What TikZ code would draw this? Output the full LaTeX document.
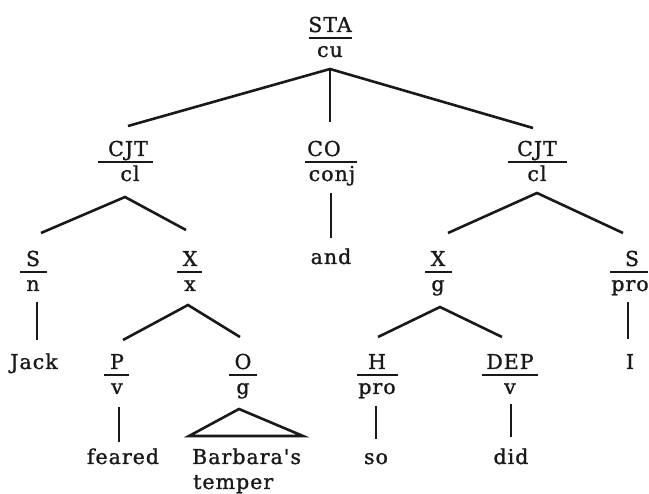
\documentclass[tikz,border=0pt]{standalone}
\usepackage{fontspec}
\newfontfamily\labfont{DejaVu Serif}[LetterSpace=5, FakeBold=1.2]
\tikzset{
  lab/.style={font=\labfont\fontsize{20.5}{22}\selectfont, inner sep=0pt, anchor=base, text=black!90},
  wordl/.style={lab, anchor=base west},
  rulebar/.style={line width=2pt, draw=black!90},
  branch/.style={line width=2.6pt, draw=black!90},
}
% #1 name, #2 top x, #3 rule y, #4 rule x1, #5 rule x2, #6 top text, #7 bottom x, #8 bottom text
\newcommand\catnode[8]{%
  \node[lab] (#1) at ({#2},{#3-6}) {#6};
  \node[lab] (#1-f) at ({#7},{#3+19}) {#8};
  \draw[rulebar] ({#4},{#3}) -- ({#5},{#3});
}
\begin{document}
\begin{tikzpicture}[x=1pt,y=-1pt]
\useasboundingbox (0,0) rectangle (649,494);

% category nodes
\catnode{sta}{330}{38}{309}{352}{STA}{330}{cu}
\catnode{cjtl}{128}{162}{98}{153}{CJT}{130}{cl}
\catnode{co}{324}{162}{305}{357}{CO}{332}{conj}
\catnode{cjtr}{537}{162}{508}{567}{CJT}{537}{cl}
\catnode{sl}{33}{272}{20}{47}{S}{33}{n}
\catnode{xl}{190}{272}{177}{202}{X}{190}{x}
\catnode{xr}{438}{272}{425}{452}{X}{438}{g}
\catnode{sr}{632}{272}{610}{648}{S}{630}{pro}
\catnode{p}{117}{375}{104}{129}{P}{117}{v}
\catnode{o}{243}{375}{229}{257}{O}{243}{g}
\catnode{h}{377}{375}{357}{398}{H}{377}{pro}
\catnode{dep}{510}{375}{482}{538}{DEP}{510}{v}

% words
\node[lab] (and) at (331,264) {and};
\node[lab] (jack) at (34,369) {Jack};
\node[lab] (i) at (630,369) {I};
\node[lab] (feared) at (123,464) {feared};
\node[wordl] (barb) at (192,464) {Barbara's};
\node[wordl] (temper) at (193,489) {temper};
\node[lab] (so) at (376,464) {so};
\node[lab] (did) at (511,464) {did};

% branch points and line ends
\coordinate (sta-b) at (330,69);
\coordinate (cjtl-t) at (128,126);
\coordinate (co-t) at (330,122);
\coordinate (cjtr-t) at (533,128);
\coordinate (cjtl-b) at (125,197);
\coordinate (sl-t) at (41,233);
\coordinate (xl-t) at (186,230);
\coordinate (co-b) at (331,193);
\coordinate (and-t) at (331,238);
\coordinate (cjtr-b) at (537,193);
\coordinate (xr-t) at (448,233);
\coordinate (sr-t) at (623,233);
\coordinate (sl-b) at (37,302);
\coordinate (jack-t) at (37,340);
\coordinate (xl-b) at (188,305);
\coordinate (p-t) at (123,340);
\coordinate (o-t) at (240,337);
\coordinate (xr-b) at (440,307);
\coordinate (h-t) at (378,337);
\coordinate (dep-t) at (502,337);
\coordinate (sr-b) at (628,302);
\coordinate (i-t) at (628,339);
\coordinate (p-b) at (119,407);
\coordinate (feared-t) at (119,442);
\coordinate (o-b) at (239,409);
\coordinate (tri-l) at (189,436);
\coordinate (tri-r) at (303,436);
\coordinate (h-b) at (376,406);
\coordinate (so-t) at (376,439);
\coordinate (dep-b) at (511,404);
\coordinate (did-t) at (511,437);

\draw[branch] (cjtl-t) -- (sta-b) -- (cjtr-t);
\draw[branch] (sta-b) -- (co-t);
\draw[branch] (sl-t) -- (cjtl-b) -- (xl-t);
\draw[branch] (co-b) -- (and-t);
\draw[branch] (xr-t) -- (cjtr-b) -- (sr-t);
\draw[branch] (sl-b) -- (jack-t);
\draw[branch] (p-t) -- (xl-b) -- (o-t);
\draw[branch] (h-t) -- (xr-b) -- (dep-t);
\draw[branch] (sr-b) -- (i-t);
\draw[branch] (p-b) -- (feared-t);
\draw[branch, line join=miter] (o-b) -- (tri-l) -- (tri-r) -- cycle;
\draw[branch] (h-b) -- (so-t);
\draw[branch] (dep-b) -- (did-t);
\end{tikzpicture}
\end{document}
